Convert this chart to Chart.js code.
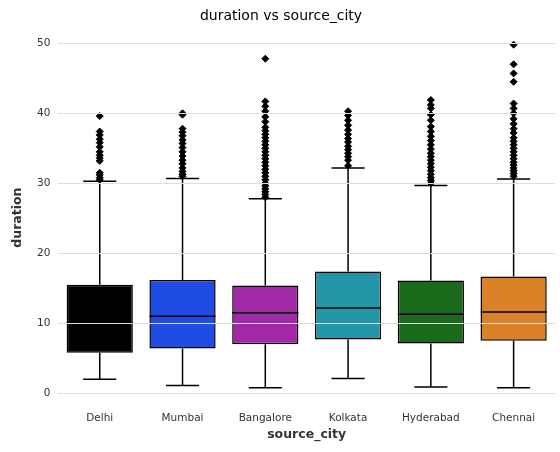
<!DOCTYPE html>
<html><head><meta charset="utf-8">
<script src="https://cdn.jsdelivr.net/npm/chart.js@4"></script>
<style>html,body{margin:0;padding:0;background:#fff}#w{width:560px;height:452px}</style>
</head><body><div id="w"><canvas id="c"></canvas></div>
<script>
const cities = ["Delhi","Mumbai","Bangalore","Kolkata","Hyderabad","Chennai"];
const whiskerLow = [2.0,1.1,0.8,2.1,0.9,0.8];
const q1 = [5.8,6.4,7.0,7.7,7.1,7.5];
const median = [10.1,11.0,11.5,12.2,11.3,11.6];
const q3 = [15.5,16.2,15.4,17.4,16.1,16.7];
const whiskerHigh = [30.3,30.7,27.8,32.2,29.7,30.6];
const colors = ["#000000","#1f4de4","#a229a6","#2397a7","#1b6a1b","#db8128"];
const outliers = [
 [30.5,30.8,31.2,31.5,33.2,33.6,34.0,34.5,35.2,35.8,36.3,36.9,37.4,39.6],
 [31.0,31.3,31.7,32.2,32.8,33.3,33.9,34.5,35.1,35.7,36.2,36.8,37.3,37.8,39.8,40.0],
 [28.0,28.4,28.8,29.2,29.6,30.0,30.5,31.0,31.5,32.0,32.5,33.0,33.5,34.0,34.5,35.0,35.5,36.0,36.5,37.0,37.5,38.0,38.8,39.5,40.3,41.0,41.7,47.8],
 [32.5,33.3,33.8,34.3,34.8,35.3,35.9,36.4,37.0,37.6,38.3,39.0,39.7,40.3],
 [30.0,30.4,30.8,31.3,31.8,32.3,32.8,33.3,33.8,34.3,34.9,35.5,36.1,36.7,37.4,38.1,39.0,39.8,40.7,41.2,41.9],
 [31.0,31.4,31.8,32.2,32.6,33.0,33.5,34.0,34.5,35.0,35.5,36.0,36.5,37.2,37.8,38.5,39.2,40.0,40.7,41.4,44.5,45.7,47.0,49.8]
];
const yTicks = [0,10,20,30,40,50];

const outPts = [];
outliers.forEach((arr,i)=>arr.forEach(v=>outPts.push({x:cities[i],y:v})));

const whiskerPlugin = {
  id:'whiskers',
  afterDatasetsDraw(chart){
    const ctx=chart.ctx, ys=chart.scales.y;
    const meta=chart.getDatasetMeta(0);
    ctx.save();
    ctx.strokeStyle='#000'; ctx.lineWidth=1.5;
    cities.forEach((c,i)=>{
      const bar=meta.data[i]; const x=bar.x; const hw=bar.width/2;
      const capW=hw/2;
      ctx.beginPath();
      ctx.moveTo(x,ys.getPixelForValue(q1[i])); ctx.lineTo(x,ys.getPixelForValue(whiskerLow[i]));
      ctx.moveTo(x-capW,ys.getPixelForValue(whiskerLow[i])); ctx.lineTo(x+capW,ys.getPixelForValue(whiskerLow[i]));
      ctx.moveTo(x,ys.getPixelForValue(q3[i])); ctx.lineTo(x,ys.getPixelForValue(whiskerHigh[i]));
      ctx.moveTo(x-capW,ys.getPixelForValue(whiskerHigh[i])); ctx.lineTo(x+capW,ys.getPixelForValue(whiskerHigh[i]));
      ctx.moveTo(x-hw,ys.getPixelForValue(median[i])); ctx.lineTo(x+hw,ys.getPixelForValue(median[i]));
      ctx.stroke();
    });
    ctx.restore();
  }
};

new Chart(document.getElementById('c'),{
  data:{labels:cities,datasets:[
    {type:'bar',data:cities.map((c,i)=>[q1[i],q3[i]]),backgroundColor:colors,borderColor:'#000',borderWidth:1.5,borderSkipped:false,categoryPercentage:0.8,barPercentage:1,order:2},
    {type:'line',data:outPts,showLine:false,pointStyle:'rectRot',pointRadius:3.5,backgroundColor:'#000',borderColor:'#000',order:1}
  ]},
  options:{
    responsive:true,maintainAspectRatio:false,animation:false,
    layout:{padding:{right:4,top:0,left:6,bottom:6}},
    plugins:{legend:{display:false},tooltip:{enabled:false},
      title:{display:true,text:'duration vs source_city',color:'#000',font:{family:'DejaVu Sans',size:14,weight:'normal'},padding:{top:8,bottom:8}}},
    scales:{
      x:{type:'category',grid:{display:false},border:{display:false},
        ticks:{color:'#333',font:{family:'DejaVu Sans',size:10.5},padding:2},
        title:{display:true,text:'source_city',color:'#333',font:{family:'DejaVu Sans',size:12.5,weight:'bold'},padding:{top:0}}},
      y:{min:-1.3,max:51.5,afterBuildTicks(s){s.ticks=yTicks.map(v=>({value:v}));},
        grid:{color:'#dedede',lineWidth:1,z:1,drawTicks:false},border:{display:false},
        ticks:{color:'#333',font:{family:'DejaVu Sans',size:10.5},padding:8},
        title:{display:true,text:'duration',color:'#333',font:{family:'DejaVu Sans',size:12.5,weight:'bold'}}}
    }
  },
  plugins:[whiskerPlugin]
});
</script></body></html>
